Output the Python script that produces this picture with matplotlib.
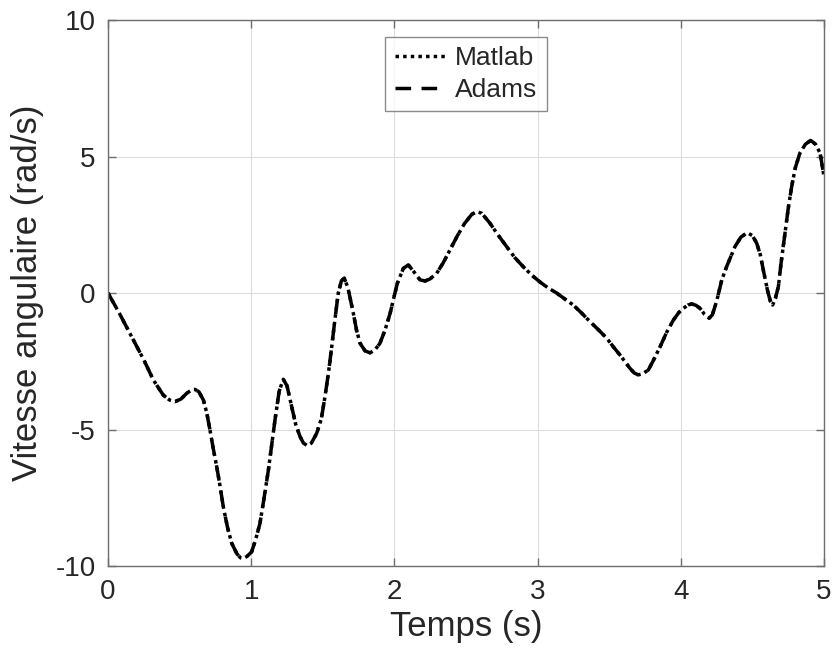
import numpy as np
import matplotlib.pyplot as plt

plt.rcParams['font.family'] = ['Liberation Sans', 'DejaVu Sans']
plt.rcParams['axes.unicode_minus'] = False

t = [0.00, 0.08, 0.177, 0.25, 0.317, 0.386, 0.43, 0.468, 0.51, 0.55,
     0.585, 0.608, 0.635, 0.666, 0.69, 0.712, 0.735, 0.759, 0.78, 0.805,
     0.835, 0.864, 0.90, 0.925, 0.945, 0.97, 1.003, 1.03, 1.061, 1.09,
     1.12, 1.145, 1.166, 1.195, 1.224, 1.25, 1.283, 1.31, 1.341, 1.365,
     1.392, 1.42, 1.457, 1.49, 1.515, 1.54, 1.562, 1.585, 1.608, 1.63,
     1.65, 1.675, 1.713, 1.735, 1.76, 1.795, 1.83, 1.865, 1.899, 1.935,
     1.97, 1.995, 2.02, 2.062, 2.097, 2.14, 2.179, 2.214, 2.25, 2.295,
     2.34, 2.388, 2.44, 2.49, 2.54, 2.575, 2.61, 2.668, 2.72, 2.784,
     2.84, 2.9, 2.96, 3.017, 3.075, 3.133, 3.19, 3.249, 3.31, 3.366,
     3.425, 3.483, 3.53, 3.575, 3.645, 3.675, 3.703, 3.735, 3.773, 3.81,
     3.855, 3.9, 3.948, 3.985, 4.018, 4.05, 4.076, 4.105, 4.134, 4.165,
     4.198, 4.22, 4.25, 4.286, 4.32, 4.378, 4.42, 4.464, 4.50, 4.53,
     4.555, 4.576, 4.605, 4.625, 4.641, 4.66, 4.681, 4.70, 4.727, 4.75,
     4.774, 4.80, 4.832, 4.87, 4.907, 4.94, 4.972, 5.0]

v = [0.00, -0.75, -1.72, -2.45, -3.19, -3.74, -3.92, -3.98, -3.88, -3.67,
     -3.55, -3.53, -3.62, -3.92, -4.4, -5.02, -5.7, -6.36, -7.0, -7.83,
     -8.6, -9.17, -9.55, -9.7, -9.72, -9.65, -9.48, -9.05, -8.44, -7.5,
     -6.48, -5.5, -4.65, -3.6, -3.16, -3.4, -4.16, -4.8, -5.26, -5.5,
     -5.59, -5.5, -5.14, -4.6, -3.80, -2.9, -1.97, -0.95, 0.0, 0.45,
     0.54, 0.2, -0.74, -1.35, -1.84, -2.12, -2.19, -2.08, -1.84, -1.35,
     -0.74, -0.2, 0.35, 0.90, 1.03, 0.75, 0.48, 0.44, 0.52, 0.72,
     1.1, 1.58, 2.1, 2.55, 2.88, 2.98, 2.92, 2.55, 2.15, 1.70,
     1.3, 0.96, 0.65, 0.4, 0.18, 0.0, -0.22, -0.44, -0.75, -1.05,
     -1.35, -1.66, -1.98, -2.27, -2.76, -2.93, -3.0, -2.95, -2.82, -2.45,
     -1.97, -1.45, -0.99, -0.72, -0.56, -0.44, -0.40, -0.45, -0.56, -0.78,
     -0.92, -0.8, -0.3, 0.48, 0.97, 1.70, 2.05, 2.21, 2.1, 1.82,
     1.4, 0.84, 0.1, -0.3, -0.44, -0.2, 0.23, 1.1, 2.19, 3.1,
     3.90, 4.6, 5.13, 5.45, 5.59, 5.45, 5.13, 4.27]

fig = plt.figure(figsize=(8.36, 6.6), dpi=100)
ax = fig.add_axes([0.1292, 0.1424, 0.8565, 0.8273])

ax.plot(t, v, color='k', linestyle=(0, (1, 1.2)), linewidth=2.5, label='Matlab')
ax.plot(t, v, color='k', linestyle=(0, (4.5, 3)), linewidth=2.5, label='Adams')

ax.set_xlim(0, 5)
ax.set_ylim(-10, 10)
ax.set_xticks([0, 1, 2, 3, 4, 5])
ax.set_yticks([-10, -5, 0, 5, 10])
ax.grid(True, color='#dcdcdc', linewidth=0.8)
ax.set_axisbelow(True)

for s in ax.spines.values():
    s.set_color('#6e6e6e')
    s.set_linewidth(1.0)
ax.tick_params(direction='in', top=True, right=True, length=6, width=1,
               color='#6e6e6e', labelsize=20, labelcolor='#262626', pad=9)

ax.set_xlabel('Temps (s)', fontsize=25, color='#262626', labelpad=4)
ax.set_ylabel('Vitesse angulaire (rad/s)', fontsize=25, color='#262626', labelpad=8)

leg = ax.legend(loc='upper center', bbox_to_anchor=(0.5, 0.969), fontsize=19,
                frameon=True, fancybox=False, edgecolor='#6e6e6e',
                handlelength=1.9, handletextpad=0.4, borderpad=0.35,
                labelspacing=0.3, borderaxespad=0)
leg.get_frame().set_linewidth(1.0)
for txt in leg.get_texts():
    txt.set_color('#262626')

fig.savefig('out.png', dpi=100)
